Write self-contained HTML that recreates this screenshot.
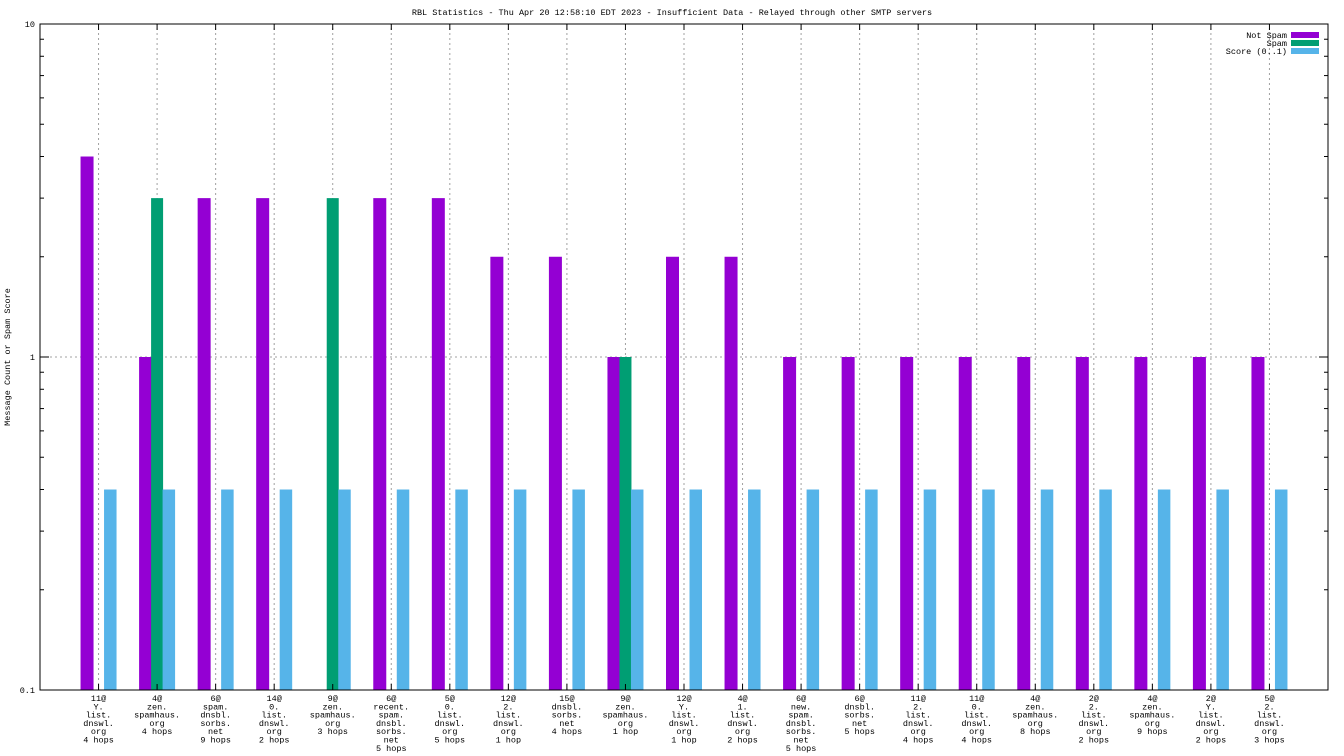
<!DOCTYPE html>
<html><head><meta charset="utf-8"><style>
html,body{margin:0;padding:0;background:#fff;}
svg{display:block;font-family:"Liberation Mono","DejaVu Sans Mono",monospace;}
</style></head><body>
<svg id="chart" width="1344" height="756" viewBox="0 0 1344 756" xmlns="http://www.w3.org/2000/svg">
<rect x="0" y="0" width="1344" height="756" fill="#fff"/>
<text x="672" y="15" font-size="8.5" text-anchor="middle">RBL Statistics - Thu Apr 20 12:58:10 EDT 2023 - Insufficient Data - Relayed through other SMTP servers</text>
<text transform="translate(10,357) rotate(-90)" font-size="8.5" text-anchor="middle">Message Count or Spam Score</text>
<g id="grid"></g><g id="bars"></g><g id="axes"></g><g id="labels"></g>
<g>
<text x="1287" y="38" font-size="8.5" text-anchor="end">Not Spam</text>
<rect x="1291" y="32" width="28" height="6" fill="#9400d3"/>
<text x="1287" y="46" font-size="8.5" text-anchor="end">Spam</text>
<rect x="1291" y="40" width="28" height="6" fill="#009e73"/>
<text x="1287" y="54" font-size="8.5" text-anchor="end">Score (0..1)</text>
<rect x="1291" y="48" width="28" height="6" fill="#56b4e9"/>
</g>
</svg>
<script>
const categories = [
"11@|Y.|list.|dnswl.|org|4 hops","4@|zen.|spamhaus.|org|4 hops","6@|spam.|dnsbl.|sorbs.|net|9 hops","14@|0.|list.|dnswl.|org|2 hops","9@|zen.|spamhaus.|org|3 hops","6@|recent.|spam.|dnsbl.|sorbs.|net|5 hops","5@|0.|list.|dnswl.|org|5 hops","12@|2.|list.|dnswl.|org|1 hop","15@|dnsbl.|sorbs.|net|4 hops","9@|zen.|spamhaus.|org|1 hop","12@|Y.|list.|dnswl.|org|1 hop","4@|1.|list.|dnswl.|org|2 hops","6@|new.|spam.|dnsbl.|sorbs.|net|5 hops","6@|dnsbl.|sorbs.|net|5 hops","11@|2.|list.|dnswl.|org|4 hops","11@|0.|list.|dnswl.|org|4 hops","4@|zen.|spamhaus.|org|8 hops","2@|2.|list.|dnswl.|org|2 hops","4@|zen.|spamhaus.|org|9 hops","2@|Y.|list.|dnswl.|org|2 hops","5@|2.|list.|dnswl.|org|3 hops"];
const notSpam = [4,1,3,3,0,3,3,2,2,1,2,2,1,1,1,1,1,1,1,1,1];
const spam = [0,3,0,0,3,0,0,0,0,1,0,0,0,0,0,0,0,0,0,0,0];
const score = [0.4,0.4,0.4,0.4,0.4,0.4,0.4,0.4,0.4,0.4,0.4,0.4,0.4,0.4,0.4,0.4,0.4,0.4,0.4,0.4,0.4];
const yTicks = [0.1,1,10];
const yTickLabels = ["0.1","1","10"];

const NS="http://www.w3.org/2000/svg";
const L=40,R=1328,T=24,B=690;
const step=(R-L)/(categories.length+1);
function xs(i){return L+(i+1)*step;}
function ys(v){return B-(Math.log10(v)-Math.log10(0.1))/(Math.log10(10)-Math.log10(0.1))*(B-T);}
function mk(tag,attrs,parent){const e=document.createElementNS(NS,tag);for(const k in attrs)e.setAttribute(k,attrs[k]);document.getElementById(parent).appendChild(e);return e;}

// grid
categories.forEach((c,i)=>{
  const g=mk('line',{x1:xs(i),x2:xs(i),y1:B,y2:T,stroke:'#a0a0a0','stroke-dasharray':'2,3','stroke-width':1},'grid');
  
  
});
const hg=mk('line',{x1:L,x2:R,y1:ys(1),y2:ys(1),stroke:'#a0a0a0','stroke-dasharray':'2,3','stroke-width':1},'grid');



// bars
function bar(v,i,x0,x1,color,name){
  if(v<=0.1)return;
  const r=mk('rect',{x:xs(i)+x0,y:ys(v),width:x1-x0,height:B-ys(v),fill:color},'bars');
  
  
}
categories.forEach((c,i)=>{
  bar(notSpam[i],i,-18,-5,'#9400d3','bar-not-spam');
  bar(spam[i],i,-6,6,'#009e73','bar-spam');
  bar(score[i],i,5.5,18,'#56b4e9','bar-score');
});

// axes
const fr=mk('rect',{x:L,y:T,width:R-L,height:B-T,fill:'none',stroke:'#000','stroke-width':1},'axes');


yTicks.forEach((t,k)=>{
  const y=ys(t);
  const tx=mk('text',{x:L-5,y:y+3,'font-size':8.5,'text-anchor':'end'},'axes');
  tx.textContent=yTickLabels[k];
  
  
  mk('line',{x1:L,x2:L+9,y1:y,y2:y,stroke:'#000'},'axes');
  mk('line',{x1:R,x2:R-9,y1:y,y2:y,stroke:'#000'},'axes');
  if(k<yTicks.length-1){
    for(let m=2;m<=9;m++){
      const yy=ys(t*m);
      mk('line',{x1:L,x2:L+4,y1:yy,y2:yy,stroke:'#000'},'axes');
      mk('line',{x1:R,x2:R-4,y1:yy,y2:yy,stroke:'#000'},'axes');
    }
  }
});
categories.forEach((c,i)=>{
  const x=xs(i);
  mk('line',{x1:x,x2:x,y1:B,y2:B-6,stroke:'#000'},'axes');
  mk('line',{x1:x,x2:x,y1:T,y2:T+6,stroke:'#000'},'axes');
  const t=mk('text',{x:x,y:701,'font-size':8.5,'text-anchor':'middle'},'labels');
  
  
  c.split('|').forEach((ln,j)=>{
    const s=document.createElementNS(NS,'tspan');
    s.setAttribute('x',x);
    s.setAttribute('y',701+j*8.3);
    s.textContent=ln;
    t.appendChild(s);
  });
});
</script>
</body></html>
